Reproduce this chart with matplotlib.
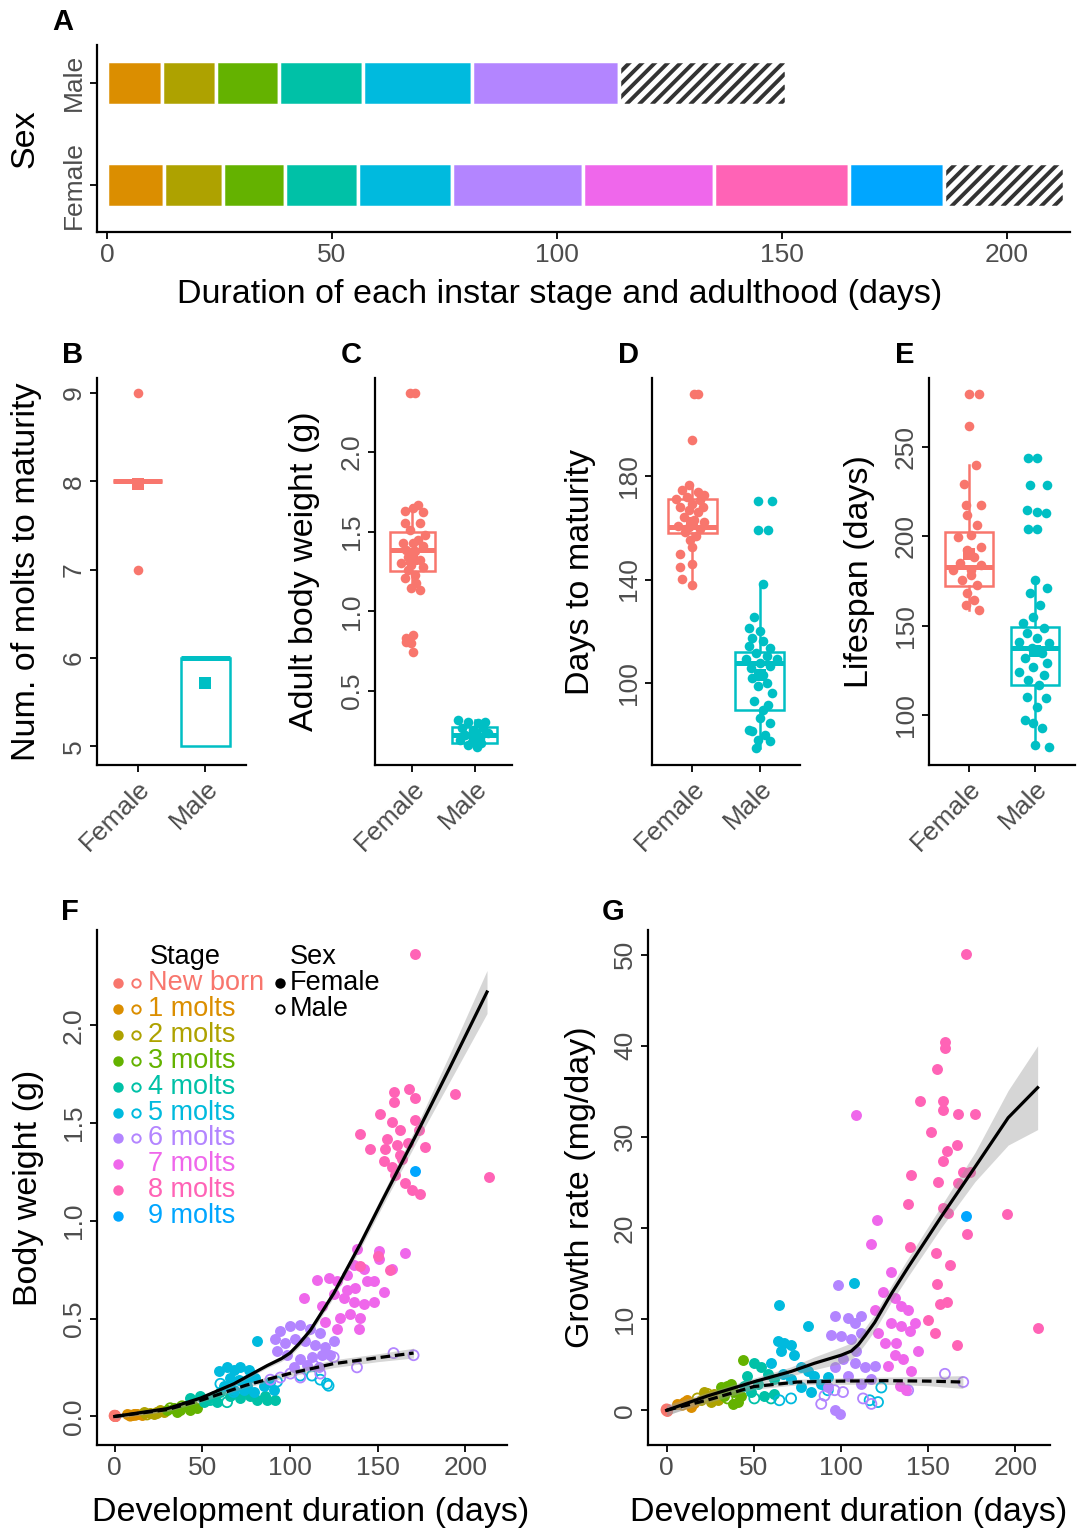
import matplotlib
matplotlib.use("Agg")
import matplotlib.pyplot as plt
import numpy as np

plt.rcParams['font.family'] = ['Liberation Sans', 'DejaVu Sans']

# ---- shared categories / colours ----
stages = ['New born', '1 molts', '2 molts', '3 molts', '4 molts', '5 molts',
          '6 molts', '7 molts', '8 molts', '9 molts']
stage_colors = ['#F8766D', '#DB8E00', '#AEA200', '#64B200', '#00C1A7', '#00BADE',
                '#B385FF', '#EF67EB', '#FF63B6', '#00A6FF']
sexes = ['Female', 'Male']
sex_colors = ['#F8766D', '#00BFC4']

# ---- panel A: duration of each stage (days), last one = adulthood ----
female_durations = [12.6, 13.1, 13.8, 16.2, 20.9, 29.2, 29.2, 29.8, 21.1, 26.7]
male_durations = [12.2, 12.1, 13.9, 18.7, 24.3, 32.5, 37.1]

# ---- panels B-E: box stats [q1, median, q3, whisker low, whisker high] ----
molts_box = [[8, 8, 8, 8, 8], [5, 6, 6, 5, 6]]
molts_mean = [7.97, 5.72]
molts_out_y = [9, 7]

weight_box = [[1.256, 1.386, 1.497, 1.135, 1.669], [0.171, 0.223, 0.276, 0.150, 0.318]]
weight_mean = [1.33, 0.22]
weight_f_x = [0.97, 1.04, 1.09, 1.01, 0.88, 1.17, 1.12, 0.88, 0.96, 1.20, 1.09, 0.85, 1.01, 1.17, 0.90, 1.04,
              0.93, 1.12, 0.82, 0.98, 1.17, 0.93, 1.04, 0.88, 1.06, 1.12, 0.98, 1.01, 0.90, 0.98, 0.90, 1.01]
weight_f_y = [2.371, 2.371, 1.669, 1.648, 1.627, 1.621, 1.554, 1.554, 1.512, 1.48, 1.449, 1.428, 1.428, 1.407,
              1.386, 1.376, 1.344, 1.323, 1.302, 1.292, 1.281, 1.26, 1.229, 1.208, 1.177, 1.135, 1.145, 0.852,
              0.831, 0.80, 0.81, 0.747]
weight_m_x = [1.73, 1.89, 2.05, 2.16, 1.79, 1.97, 2.13, 1.84, 2.0, 2.21, 1.76, 1.95, 2.11, 2.03, 1.89, 2.0, 2.08]
weight_m_y = [0.318, 0.307, 0.297, 0.307, 0.265, 0.255, 0.265, 0.223, 0.213, 0.234, 0.192, 0.181, 0.171, 0.15,
              0.16, 0.244, 0.202]

days_box = [[158.0, 160.3, 171.3, 138.0, 176.5], [89.6, 107.8, 111.9, 74.7, 138.3]]
days_mean = [162.0, 103.0]
days_f_x = [1.03, 1.08, 1.0, 0.95, 0.84, 1.08, 1.18, 0.76, 0.92, 1.11, 1.0, 0.82, 1.16, 0.95, 1.08, 0.87, 1.03,
            1.18, 0.79, 0.95, 1.11, 0.89, 1.05, 0.97, 1.0, 0.82, 1.0, 0.82, 0.84, 1.0]
days_f_y = [211.9, 211.9, 194, 176.5, 174.6, 173.9, 172.6, 171.3, 171.9, 170.7, 169.4, 168.1, 168.1, 166.8,
            166.1, 164.2, 162.9, 162.2, 160.9, 160.3, 159.6, 158.3, 157, 155.1, 152.5, 149.9, 146, 144.7,
            140.2, 138]
days_m_x = [1.97, 2.18, 1.97, 2.13, 2.05, 1.91, 1.84, 2.0, 1.89, 2.05, 1.84, 2.16, 1.95, 2.11, 1.79, 2.26, 2.0,
            1.87, 2.16, 2.05, 1.89, 2.11, 1.97, 2.18, 1.92, 2.13, 2.05, 2.0, 2.16, 1.89, 2.08, 1.97, 2.16, 1.95,
            1.84]
days_m_y = [170.3, 170.3, 159.3, 159.3, 138.3, 125.3, 121.4, 120.1, 117.5, 116.2, 114.3, 113.6, 111.7, 110.4,
            109.1, 109.1, 107.8, 105.8, 106.5, 103.2, 101.9, 100, 98.7, 96.1, 92.9, 91.6, 89.6, 86.4, 84.4,
            81.2, 80, 78, 77.3, 74.7, 81.8]

life_box = [[172.3, 183.1, 202.4, 158.8, 240.1], [116.8, 137.4, 149.5, 83.2, 175.6]]
life_mean = [190.0, 136.0]
life_f_x = [1.0, 1.16, 1.0, 1.11, 0.92, 1.18, 0.95, 0.97, 1.13, 0.84, 1.03, 1.18, 0.97, 1.08, 0.87, 1.18, 0.76,
            1.03, 1.03, 0.89, 1.13, 0.97, 1.08, 0.95, 1.16]
life_f_y = [279.9, 279.9, 262, 240.1, 229.5, 217.7, 217.7, 212.1, 206.5, 199.9, 200.9, 194.3, 192.5, 188.7,
            185, 184.1, 181.3, 181.3, 178.5, 175.6, 172.8, 168.2, 164.4, 161.6, 158.8]
life_m_x = [1.89, 2.03, 1.92, 2.18, 1.87, 2.03, 2.16, 1.89, 2.03, 2.0, 2.18, 1.92, 2.08, 1.97, 1.82, 2.13, 1.87,
            2.03, 1.76, 2.21, 1.95, 2.11, 1.84, 2.18, 1.97, 1.76, 2.13, 1.89, 2.05, 1.87, 2.16, 2.03, 1.84, 1.97,
            2.11, 2.0, 2.21]
life_m_y = [243.8, 243.8, 228.9, 228.9, 214.9, 213.9, 213, 204, 204, 175.6, 171, 168.2, 161.6, 155.1, 151.4,
            148.6, 145.8, 142.9, 141.1, 140.2, 137.4, 134.5, 131.7, 128.9, 127.1, 124.3, 122.4, 119.6, 116.8,
            110.3, 109.3, 104.6, 97.2, 95.3, 92.5, 83.2, 82.2]

# ---- panel F: body weight (g) vs development duration (days), one list per stage ----
wt_f_days = [
    [0, 0, 0, 0, 0],
    [7, 9.9, 12.7, 15.6, 10.8],
    [16.5, 20.3, 24.1, 27.9, 22.2, 26],
    [29.8, 33.7, 37.5, 40.3, 43.2, 47, 35.6, 44.1],
    [43.2, 48.9, 52.7, 56.5, 60.3, 66, 71.7, 77.4, 81.2, 86.9, 91.6, 86, 50.8, 58.4],
    [81.2, 59.3, 64.1, 67.9, 71.7, 76.4, 66, 70.7, 75.5, 80.2, 62.2, 67.9, 73.6, 79.3, 85, 88.8, 90.7, 75.5],
    [94.5, 100.2, 105.9, 111.6, 117.3, 91.6, 97.3, 103, 108.7, 114.4, 120.2, 92.6, 98.3, 105.9, 112.5, 118.3,
     102.1, 109.7, 116.3, 124.9, 123],
    [138.2, 150.6, 165.8, 107.8, 115.4, 122, 126.8, 132.5, 136.3, 142, 150.6, 158.2, 147.7, 153.4, 124.9, 130.6,
     136.3, 142, 147.7, 134.4, 140.1, 128.7, 139.2, 126.8, 120.2, 143.9, 137.3, 132.5, 118.3],
    [171.5, 159.1, 167.7, 171.5, 194.3, 159.1, 151.5, 158.1, 171.5, 140.1, 162.9, 173.4, 145.8, 154.4, 160.9,
     167.6, 177.2, 153.4, 158.2, 162.9, 160.1, 165.8, 169.6, 174.3, 213.3, 163.9, 155.3, 150, 157, 140],
    [171.5],
]
wt_f_g = [
    [0.004, 0.003, 0.005, 0.002, 0.004],
    [0.010, 0.006, 0.013, 0.008, 0.015],
    [0.021, 0.017, 0.025, 0.021, 0.010, 0.031],
    [0.031, 0.042, 0.031, 0.052, 0.031, 0.042, 0.021, 0.063],
    [0.094, 0.104, 0.084, 0.104, 0.125, 0.104, 0.094, 0.104, 0.084, 0.084, 0.084, 0.104, 0.073, 0.073],
    [0.387, 0.23, 0.251, 0.24, 0.251, 0.24, 0.199, 0.188, 0.188, 0.199, 0.157, 0.136, 0.136, 0.125, 0.157,
     0.178, 0.136, 0.157],
    [0.439, 0.46, 0.47, 0.449, 0.428, 0.397, 0.376, 0.397, 0.387, 0.366, 0.355, 0.334, 0.313, 0.293, 0.303,
     0.313, 0.251, 0.261, 0.251, 0.387, 0.313],
    [0.857, 0.846, 0.836, 0.606, 0.70, 0.71, 0.69, 0.721, 0.773, 0.752, 0.805, 0.752, 0.69, 0.637, 0.627, 0.606,
     0.585, 0.575, 0.585, 0.522, 0.502, 0.502, 0.449, 0.449, 0.481, 0.69, 0.658, 0.648, 0.564],
    [2.366, 1.661, 1.672, 1.63, 1.651, 1.609, 1.546, 1.505, 1.515, 1.442, 1.463, 1.463, 1.369, 1.369, 1.39,
     1.40, 1.379, 1.306, 1.275, 1.338, 1.233, 1.191, 1.16, 1.139, 1.223, 1.317, 1.421, 0.82, 0.75, 0.77],
    [1.254],
]
wt_m_days = [[0, 0], [11.8, 8.9], [24.1, 18.4], [38.4, 31.7], [64.1, 54.6, 71.7],
             [60.3, 67.9, 105.9, 112.5, 121.1, 122, 117.3, 92.6],
             [159.1, 170.5, 138.2, 124.9, 113.5, 117.3, 105.9, 94.5, 88.8, 100.2], [], [], []]
wt_m_g = [[0.003, 0.004], [0.008, 0.004], [0.017, 0.010], [0.052, 0.042], [0.073, 0.084, 0.115],
          [0.167, 0.125, 0.209, 0.209, 0.167, 0.157, 0.188, 0.178],
          [0.324, 0.313, 0.251, 0.303, 0.261, 0.219, 0.199, 0.199, 0.188, 0.219], [], [], []]

# fitted curves (value, half width of the grey band)
wt_fit_f_days = [0, 30, 49, 68, 87, 95, 100, 105, 111.6, 125, 140, 153, 172, 191, 212.4]
wt_fit_f = [0, 0.04, 0.094, 0.167, 0.26, 0.295, 0.324, 0.37, 0.44, 0.63, 0.88, 1.11, 1.44, 1.78, 2.17]
wt_fit_f_se = [0.01, 0.01, 0.01, 0.01, 0.012, 0.014, 0.015, 0.017, 0.02, 0.02, 0.025, 0.03, 0.04, 0.07, 0.11]
wt_fit_m_days = [0, 30, 50, 75, 100, 125, 150, 170.5]
wt_fit_m = [0, 0.035, 0.085, 0.16, 0.22, 0.27, 0.30, 0.324]
wt_fit_m_se = [0.01, 0.01, 0.01, 0.012, 0.015, 0.02, 0.02, 0.025]

# ---- panel G: growth rate (mg/day) ----
gr_f_days = [
    [0, 0, 0, 0, 0],
    [6.1, 10, 13.8, 11.9, 15.7],
    [19.6, 23.4, 27.3, 25.3, 29.2, 21.5],
    [43.6, 31.1, 34.9, 38.8, 42.6, 37.8, 40.7, 33, 36.9],
    [50.3, 54.1, 46.4, 58, 52.2, 61.8, 48.4, 56, 61.8, 44.5],
    [64.7, 81, 107.3, 63.7, 67.6, 71.4, 65.6, 73.3, 59.9, 77.2, 81, 84.8, 71.4, 88.7, 77.2, 82.9, 92.5, 66.6],
    [98.3, 96.4, 104, 111.7, 107.9, 94.4, 100.2, 105.9, 111.7, 101.2, 107.9, 113.6, 119.4, 96.4, 104, 111.7,
     117.5, 92.5, 96.4, 99.2, 108.8],
    [108.8, 120.9, 117.1, 129, 124.2, 130.9, 134.7, 138.6, 129, 134.7, 139.5, 121.3, 119.4, 142.4, 144.3, 127.1,
     130.9, 135.7, 140.5, 133.8, 137.6, 125.1, 131.9],
    [171.6, 159.7, 159.7, 154.9, 145.3, 158.7, 158.7, 167.4, 177, 151.9, 166.4, 160.7, 158.7, 140.5, 170.2,
     174.1, 167.4, 155.9, 138.6, 158.7, 161.6, 195.2, 172.2, 139.5, 154.5, 162.6, 155.1, 160.7, 156.8, 150.1,
     153.9, 166.4, 213.4],
    [171.6],
]
gr_f_rate = [
    [0, 0.1, -0.1, 0.05, 0],
    [0.7, 0.9, 0.4, 1.1, 0.8],
    [1.1, 1.6, 1.8, 0.9, 1.1, 2.0],
    [5.5, 2.5, 2.7, 2.0, 1.6, 0.7, 0.9, 1.6, 2.9],
    [5.2, 4.7, 3.8, 4.0, 2.9, 3.4, 2.0, 1.6, 1.8, 2.7],
    [11.5, 9.2, 14.0, 7.6, 7.4, 7.2, 6.5, 6.1, 5.2, 4.7, 4.3, 3.8, 3.4, 2.9, 2.5, 2.0, 3.6, 4.0],
    [13.7, 10.3, 10.1, 10.3, 9.6, 8.3, 8.1, 7.8, 8.5, 5.6, 5.2, 4.7, 4.9, 4.7, 3.8, 2.9, 3.4, 2.5, 0, -0.4, 6.5],
    [32.4, 20.9, 18.2, 15.2, 13.0, 12.3, 11.4, 11.0, 9.6, 9.2, 8.7, 8.5, 11.0, 9.6, 6.5, 4.9, 6.1, 5.6, 4.3, 2.7,
     2.2, 7.4, 7.4],
    [50.1, 40.4, 39.7, 37.4, 33.9, 33.9, 33.0, 32.5, 32.5, 30.5, 29.1, 28.5, 27.4, 25.8, 26.2, 26.2, 24.9, 25.1,
     22.6, 22.2, 21.7, 21.5, 19.3, 17.9, 17.3, 15.9, 13.9, 11.9, 11.7, 9.9, 8.5, 7.2, 9.0],
    [21.3],
]
gr_m_days = [[0, 0], [9], [23.4, 17.7], [34.9], [59.9, 50.3], [123.2, 121.3, 116.5, 71.4, 64.7, 92.5],
             [138.6, 159.7, 170.2, 112.7, 117.5, 96.4, 90.6, 88.7, 101.2], [], [], []]
gr_m_rate = [[0, 0.1], [0.6], [1.8, 1.3], [1.3], [1.3, 1.3], [2.5, 0.9, 1.1, 1.3, 1.1, 2.2],
             [2.2, 4.0, 3.1, 1.3, 0.7, 2.2, 1.6, 0.7, 2.0], [], [], []]

gr_fit_f_days = [0, 23.4, 50.3, 71.4, 84.8, 100.2, 106, 110, 114, 119.4, 129, 138.6, 157.8, 177, 196, 212.9]
gr_fit_f = [0, 1.57, 3.14, 4.26, 5.16, 6.05, 6.5, 7.2, 8.2, 9.64, 12.8, 15.7, 21.3, 26.7, 32.1, 35.4]
gr_fit_f_se = [0.6, 0.4, 0.4, 0.5, 0.7, 0.9, 0.9, 0.9, 0.9, 0.9, 0.9, 1.0, 1.2, 1.6, 3.0, 4.6]
gr_fit_m_days = [0, 25, 50, 75, 100, 125, 150, 170]
gr_fit_m = [0, 1.2, 2.6, 3.1, 3.2, 3.25, 3.2, 3.1]
gr_fit_m_se = [0.5, 0.3, 0.3, 0.3, 0.35, 0.4, 0.5, 0.7]

# ---------------------------------------------------------------
W, H = 1086, 1533
fig = plt.figure(figsize=(W / 100, H / 100), dpi=100)
TICK = 19
LAB = 24.5
GREY = '#4D4D4D'


def add_ax(l, r, t, b):
    return fig.add_axes([l / W, 1 - b / H, (r - l) / W, (b - t) / H])


def style(ax):
    ax.spines[['top', 'right']].set_visible(False)
    for s in ['left', 'bottom']:
        ax.spines[s].set_linewidth(1.6)
    ax.tick_params(length=5, width=1.3, labelsize=TICK, labelcolor=GREY, pad=3)
    plt.setp(ax.get_yticklabels(), rotation=90, va='center')


def panel_label(x, y, s):
    fig.text(x / W, 1 - y / H, s, fontsize=21, fontweight='bold', ha='center', va='center')


# ---- A ----
ax = add_ax(97, 1070, 45, 232)
ax.set_xlim(-2.2, 214)
ax.set_ylim(-0.46, 1.37)
BAR_H = 0.43
sx = ax.transData.transform((1, 0))[0] - ax.transData.transform((0, 0))[0]
sy = ax.transData.transform((0, 1))[1] - ax.transData.transform((0, 0))[1]
for row, dur in enumerate([female_durations, male_durations]):
    lefts = np.concatenate([[0], np.cumsum(dur)[:-1]])
    n = len(dur) - 1
    ax.barh([row] * n, dur[:n], left=lefts[:n], height=BAR_H, color=stage_colors[1:n + 1],
            edgecolor='white', linewidth=2.5)
    # adulthood: white bar with diagonal stripes, stripes cut to the bar edges
    bars = ax.barh(row, dur[n], left=lefts[n], height=BAR_H, color='white', linewidth=0)
    x_lo, x_hi = lefts[n], lefts[n] + dur[n]
    run = BAR_H * sy / sx           # horizontal extent of a 45 degree stripe, in days
    step = 12.8 / sx                # stripe spacing, in days
    for xs in np.arange(x_lo - run, x_hi, step):
        t0 = max(0.0, (x_lo - xs) / run)
        t1 = min(1.0, (x_hi - xs) / run)
        if t1 <= t0:
            continue
        ln, = ax.plot([xs + t0 * run, xs + t1 * run],
                      [row - BAR_H / 2 + t0 * BAR_H, row - BAR_H / 2 + t1 * BAR_H],
                      color='#333333', linewidth=2.8, solid_capstyle='butt', zorder=2)
        ln.set_clip_path(bars[0])
    ax.barh(row, dur[n], left=lefts[n], height=BAR_H, fill=False, edgecolor='white', linewidth=2.5, zorder=3)
ax.set_xticks([0, 50, 100, 150, 200])
ax.set_yticks([0, 1])
ax.set_yticklabels(sexes)
style(ax)
ax.set_xlabel('Duration of each instar stage and adulthood (days)', fontsize=LAB)
ax.set_ylabel('Sex', fontsize=LAB)
ax.yaxis.set_label_coords(-0.058, 0.5)
ax.xaxis.set_label_coords(0.475, -0.25)
panel_label(63, 22, 'A')


# ---- B-E ----
def box_panel(l, r, stats, means, ylim, yticks, ylabel, label, lx, pts):
    ax = add_ax(l, r, 378, 765)
    for i in range(2):
        q1, med, q3, lo, hi = stats[i]
        ax.bxp([{'q1': q1, 'med': med, 'q3': q3, 'whislo': lo, 'whishi': hi, 'fliers': []}],
               positions=[i + 1], widths=0.72, showcaps=False, showfliers=False, patch_artist=True,
               boxprops=dict(facecolor='white', edgecolor=sex_colors[i], linewidth=1.8),
               whiskerprops=dict(color=sex_colors[i], linewidth=1.8),
               medianprops=dict(color=sex_colors[i], linewidth=3.6, solid_capstyle='butt'),
               manage_ticks=False, zorder=2)
    for i, (px, py) in enumerate(pts):
        ax.scatter(px, py, s=48, color=sex_colors[i], linewidths=0, zorder=3)
    ax.scatter([1, 2], means, marker='s', s=75, color=sex_colors, linewidths=0, zorder=4)
    ax.set_xlim(0.4, 2.6)
    ax.set_ylim(*ylim)
    ax.set_yticks(yticks)
    ax.set_xticks([1, 2])
    ax.set_xticklabels(sexes)
    style(ax)
    plt.setp(ax.get_xticklabels(), rotation=45, ha='right', rotation_mode='anchor')
    ax.set_ylabel(ylabel, fontsize=LAB)
    ax.yaxis.set_label_coords((lx - l) / (r - l), 0.5)
    panel_label(l - 24, 355, label)
    return ax


box_panel(97, 246, molts_box, molts_mean, (4.79, 9.17), [5, 6, 7, 8, 9], 'Num. of molts to maturity', 'B', 42,
          [([1, 1], molts_out_y), ([], [])])
box_panel(375, 512, weight_box, weight_mean, (0.035, 2.465), [0.5, 1.0, 1.5, 2.0], 'Adult body weight (g)', 'C',
          320, [(weight_f_x, weight_f_y), (weight_m_x, weight_m_y)])
box_panel(652, 800, days_box, days_mean, (68.2, 218), [100, 140, 180], 'Days to maturity', 'D', 596,
          [(days_f_x, days_f_y), (days_m_x, days_m_y)])
box_panel(929, 1075, life_box, life_mean, (72, 288.7), [100, 150, 200, 250], 'Lifespan (days)', 'E', 875,
          [(life_f_x, life_f_y), (life_m_x, life_m_y)])


# ---- F and G ----
def scatter_panel(l, r, fd, fy, md, my, fit, xlim, ylim, yticks, ylabel, label, lx, xlab_x, label_x):
    ax = add_ax(l, r, 930, 1445)
    for k in range(len(stages)):
        ax.scatter(fd[k], fy[k], s=62, color=stage_colors[k], linewidths=0, zorder=2)
        if md[k]:
            ax.scatter(md[k], my[k], s=52, facecolors='none', edgecolors=stage_colors[k],
                       linewidths=1.3, zorder=2)
    for (xd, yv, se, ls) in fit:
        yv = np.array(yv)
        se = np.array(se)
        ax.fill_between(xd, yv - se, yv + se, color='#999999', alpha=0.4, linewidth=0, zorder=3)
        ax.plot(xd, yv, color='black', linewidth=2.3, linestyle=ls, zorder=4)
    ax.set_xlim(*xlim)
    ax.set_ylim(*ylim)
    ax.set_xticks([0, 50, 100, 150, 200])
    ax.set_yticks(yticks)
    style(ax)
    ax.set_xlabel('Development duration (days)', fontsize=LAB)
    ax.xaxis.set_label_coords(xlab_x, -0.1)
    ax.set_ylabel(ylabel, fontsize=LAB)
    ax.yaxis.set_label_coords((lx - l) / (r - l), 0.5)
    panel_label(label_x, 912, label)
    return ax


axF = scatter_panel(97, 507, wt_f_days, wt_f_g, wt_m_days, wt_m_g,
                    [(wt_fit_f_days, wt_fit_f, wt_fit_f_se, '-'),
                     (wt_fit_m_days, wt_fit_m, wt_fit_m_se, (0, (3, 1.5)))],
                    (-10.1, 223.8), (-0.146, 2.487), [0.0, 0.5, 1.0, 1.5, 2.0], 'Body weight (g)', 'F', 44,
                    0.52, 70)
axF.set_yticklabels(['0.0', '0.5', '1.0', '1.5', '2.0'], rotation=90, va='center')

scatter_panel(648, 1050, gr_f_days, gr_f_rate, gr_m_days, gr_m_rate,
              [(gr_fit_f_days, gr_fit_f, gr_fit_f_se, '-'),
               (gr_fit_m_days, gr_fit_m, gr_fit_m_se, (0, (3, 1.5)))],
              (-10.7, 220), (-3.81, 52.7), [0, 10, 20, 30, 40, 50], 'Growth rate (mg/day)', 'G', 596,
              0.5, 613)


# ---- legend inside F (pixel positions converted to axes fraction) ----
def fpos(px, py):
    return (px - 97) / 410, (1445 - py) / 515


LEG = 19.5
tx, ty = fpos(150, 957)
axF.text(tx, ty, 'Stage', transform=axF.transAxes, fontsize=LEG, va='center', ha='left')
tx, ty = fpos(290, 957)
axF.text(tx, ty, 'Sex', transform=axF.transAxes, fontsize=LEG, va='center', ha='left')
for k, name in enumerate(stages):
    py = 983 + k * 25.9
    x0, y0 = fpos(118, py)
    axF.plot([x0], [y0], 'o', color=stage_colors[k], markersize=7.5, markeredgewidth=0,
             transform=axF.transAxes, clip_on=False)
    if wt_m_days[k]:
        x1, _ = fpos(136, py)
        axF.plot([x1], [y0], 'o', markerfacecolor='none', markeredgecolor=stage_colors[k], markersize=6,
                 markeredgewidth=1.4, transform=axF.transAxes, clip_on=False)
    x2, _ = fpos(148, py)
    axF.text(x2, y0, name, color=stage_colors[k], transform=axF.transAxes, fontsize=LEG,
             va='center', ha='left')
for k, name in enumerate(sexes):
    py = 983 + k * 25.9
    x0, y0 = fpos(280, py)
    if k == 0:
        axF.plot([x0], [y0], 'o', color='black', markersize=7.5, markeredgewidth=0, transform=axF.transAxes)
    else:
        axF.plot([x0], [y0], 'o', markerfacecolor='none', markeredgecolor='black', markersize=6,
                 markeredgewidth=1.4, transform=axF.transAxes)
    x2, _ = fpos(290, py)
    axF.text(x2, y0, name, color='black', transform=axF.transAxes, fontsize=LEG, va='center', ha='left')

fig.savefig('out.png', dpi=100)
